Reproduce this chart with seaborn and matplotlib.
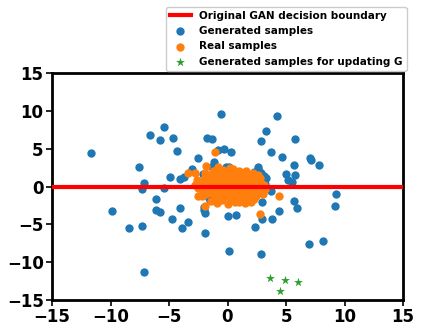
import matplotlib
matplotlib.use("Agg")
import matplotlib.pyplot as plt
import seaborn as sns
import pandas as pd

# Generated samples (blue)
gen_x = [-0.55, -11.65, -5.47, -6.6, -5.75, -4.67, -4.3, -7.6, -7.1, -1.77, -1.34, -2.48, -1.17,
         -0.83, -0.26, -3.0, -4.9, -4.1, -3.7, -5.4, -7.3, -2.1, 4.25, 3.3, 2.9, 5.8, 3.7, 4.65,
         7.07, 7.15, 7.8, 5.7, 5.0, 5.8, 5.2, 5.5, 0.3, 2.6, 2.3, 2.7, 3.1, 3.25, 3.7, -6.1,
         -9.85, -6.1, -5.75, -4.1, -4.75, -3.4, -8.45, -7.3, -3.9, -2.05, -1.9, -1.9, -7.1, 0.0,
         0.1, -1.5, 9.3, 9.2, 5.65, 5.95, 4.4, 2.95, 2.95, 3.8, 2.35, 0.7, 2.9, 6.95, 8.2, 3.2,
         0.15, -0.1, -1.35, 2.85, -1.6, -2.0, 3.2,
         -1.2, 0.5, 1.5, -0.5, 0.8, 2.0, -2.0, 1.0, -0.3, 0.3]
gen_y = [9.6, 4.4, 7.8, 6.75, 6.2, 6.4, 4.7, 2.6, 0.5, 6.4, 6.3, 3.8, 3.2,
         4.8, 4.95, 2.3, 1.2, 1.0, 1.3, -0.15, -0.35, 1.7, 9.3, 7.4, 6.0, 6.3, 4.5, 3.9,
         3.8, 3.55, 2.9, 2.8, 1.7, 1.5, 0.8, 0.55, 4.6, 2.6, 1.9, 2.1, 1.4, 1.1, -0.6, -1.6,
         -3.3, -3.15, -3.4, -2.9, -4.35, -4.65, -5.5, -5.25, -5.5, -3.1, -3.5, -6.1, -11.3, -3.9,
         -8.55, -1.75, -0.97, -2.6, -1.9, -2.85, -3.3, -2.05, -4.35, -4.35, -5.4, -3.8, -8.9, -7.55, -7.2, -0.3,
         2.6, 2.6, 2.6, 1.8, -1.55, -2.65, 0.35,
         0.5, -0.5, 1.0, -1.0, 0.2, 0.5, -0.2, -1.5, 1.5, 0.1]

# Real samples (orange)
real_x = [-2.3, -2.1, -2.0, -1.9, -1.8, -1.7, -1.6, -1.5, -1.4, -1.3, -1.2, -1.1, -1.0, -1.0, -0.9,
          -0.8, -0.8, -0.7, -0.6, -0.6, -0.5, -0.5, -0.4, -0.3, -0.3, -0.2, -0.2, -0.1, 0.0, 0.0,
          0.1, 0.1, 0.2, 0.2, 0.3, 0.3, 0.4, 0.5, 0.5, 0.6, 0.6, 0.7, 0.7, 0.8, 0.8, 0.9, 1.0, 1.0,
          1.1, 1.1, 1.2, 1.3, 1.3, 1.4, 1.5, 1.5, 1.6, 1.7, 1.8, 1.8, 1.9, 2.0, 2.1, 2.2, 2.2, 2.4,
          2.5, 2.6, 2.7, 2.9, 3.0, 3.1, -2.5, -2.6, -1.4, -0.9, 0.0, 1.0, 2.0, -1.9, -1.2, -0.4,
          1.0, 2.6, -0.1, 0.4, -0.5, 0.9, 1.4, -1.5, -2.2, 3.2, 2.8, -2.8, 0.2,
          -1.6, -0.7, 0.4, 1.2, 2.3, -2.0, -1.1, 0.6, 1.7, 2.4, -0.3, 0.9, -1.7, 0.0, 1.9,
          -2.4, -0.6, 0.7, 1.6, 2.9, -1.3, 0.2, 1.1, 2.1, -0.9, 0.5, 1.4, -2.1, -0.2, 2.7,
          -1.1, -1.8, -3.4, -2.8, 0.45, 1.6, 2.2, 4.4, 1.5, 2.25, 2.75, -2.5, -1.9, -0.8]
real_y = [0.4, -0.5, 1.0, 0.1, -1.0, 0.7, -0.3, 1.4, 0.3, -0.8, 1.0, -1.5, 0.0, 0.6, -0.5,
          1.6, -1.1, 0.3, -0.2, 1.1, -1.8, 0.7, -0.7, 0.1, 1.4, -1.3, 0.5, -0.4, 0.9, -0.9,
          0.2, 1.8, -0.2, -1.6, 0.6, 1.2, -0.6, 0.0, -1.2, 0.9, -2.0, 0.3, 1.5, -0.4, -0.9, 0.6, -0.1, 1.1,
          -1.4, 0.3, -0.6, 0.9, 1.6, -0.2, -1.0, 0.5, 1.2, -0.5, 0.2, -1.4, 0.8, -0.2, 1.4, -0.8, 0.4, -1.2,
          0.9, 0.0, -0.6, 0.5, -1.0, 0.2, -0.2, 0.9, -1.9, -2.2, -2.3, -2.0, -2.0, 1.8, 2.0, 2.2,
          2.1, 1.5, 1.2, -0.3, 0.2, -0.7, 0.0, 0.9, -1.3, -0.3, 1.1, 0.2, 2.4,
          -0.6, 0.6, 1.0, -1.0, 0.1, 0.5, 1.5, -1.5, -0.8, 0.7, -1.0, 0.1, 0.2, 1.4, -1.7,
          0.4, -1.4, -0.8, 0.8, -0.2, -0.3, 0.3, 1.8, -0.4, 0.3, 1.8, -1.7, -0.9, -0.1, 0.8,
          4.6, 2.7, 1.75, 1.75, 2.3, 2.0, 1.8, -1.3, -2.15, -1.7, -3.6, -1.3, -2.55, 2.6]

# Generated samples for updating G (green stars)
upd_x = [3.65, 4.9, 6.05, 4.5]
upd_y = [-12.05, -12.3, -12.6, -13.85]

# Decision boundary
boundary_x = [-15, 15]
boundary_y = [0, 0]

xticks = [-15, -10, -5, 0, 5, 10, 15]
yticks = [-15, -10, -5, 0, 5, 10, 15]

gen_df = pd.DataFrame({"x": gen_x, "y": gen_y})
real_df = pd.DataFrame({"x": real_x, "y": real_y})
upd_df = pd.DataFrame({"x": upd_x, "y": upd_y})
bnd_df = pd.DataFrame({"x": boundary_x, "y": boundary_y})

fig = plt.figure(figsize=(4.23, 3.32), dpi=100)
ax = fig.add_axes([52 / 423, 32 / 332, 351 / 423, 227 / 332])

sns.lineplot(data=bnd_df, x="x", y="y", ax=ax, color="red", linewidth=3,
             label="Original GAN decision boundary", zorder=3)
sns.scatterplot(data=gen_df, x="x", y="y", ax=ax, color="#1f77b4", s=36, linewidth=0,
                label="Generated samples", zorder=2)
sns.scatterplot(data=real_df, x="x", y="y", ax=ax, color="#ff7f0e", s=36, linewidth=0,
                label="Real samples", zorder=2)
sns.scatterplot(data=upd_df, x="x", y="y", ax=ax, color="#2ca02c", marker="*", s=45, linewidth=0,
                label="Generated samples for updating G", zorder=2)

ax.set_xlim(-15, 15)
ax.set_ylim(-15, 15)
ax.set_xticks(xticks)
ax.set_yticks(yticks)
ax.set_xlabel("")
ax.set_ylabel("")
for lab in ax.get_xticklabels() + ax.get_yticklabels():
    lab.set_fontweight("bold")
    lab.set_fontsize(12)
ax.tick_params(width=1.2, length=4, pad=2)
for sp in ax.spines.values():
    sp.set_linewidth(2)

leg = ax.legend(loc="lower right", bbox_to_anchor=(1.01, 1.01), borderaxespad=0,
                prop={"weight": "bold", "size": 7.5}, scatterpoints=1, handlelength=2.0,
                fancybox=True, framealpha=1, borderpad=0.4, labelspacing=0.5)

fig.savefig("out.png", dpi=100)
